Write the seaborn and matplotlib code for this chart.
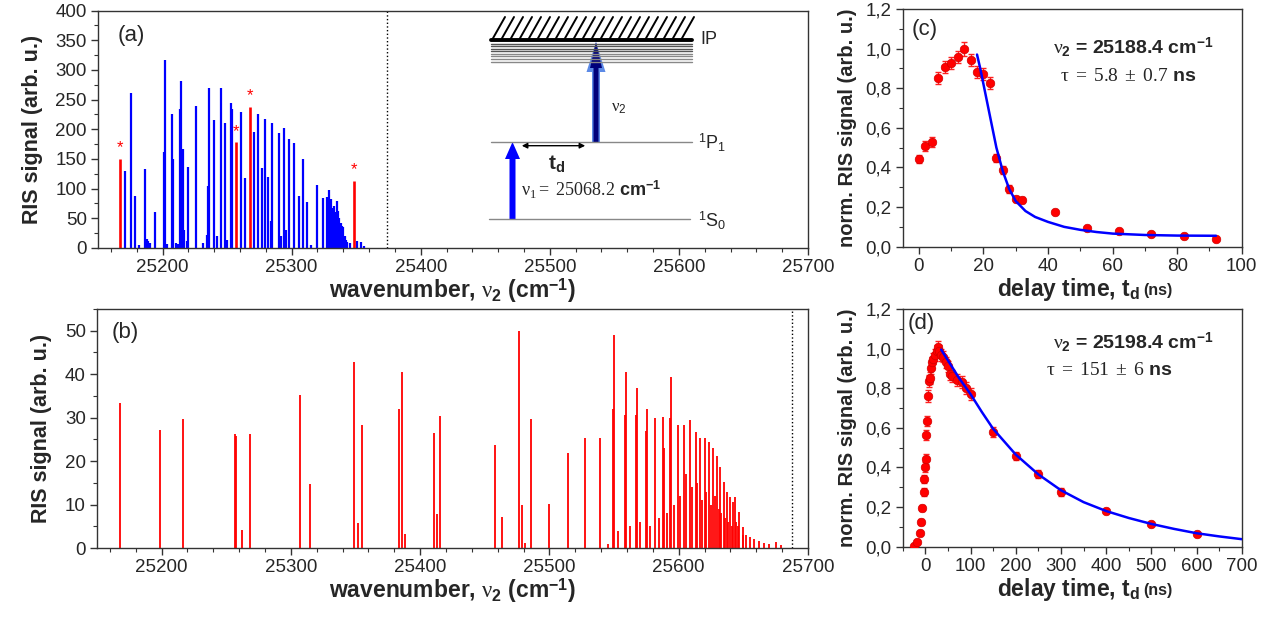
import matplotlib
matplotlib.use('Agg')
import matplotlib.pyplot as plt
import seaborn as sns
from matplotlib.ticker import MultipleLocator, FuncFormatter

# ---- panel (a): RIS spectrum, blue lines + red (starred) lines
wn_a_blue = [25171, 25175.6, 25178.7, 25181.5, 25186.5, 25188, 25189, 25190.5, 25194,
             25201, 25201.8, 25203.5, 25207, 25208, 25210.5, 25212, 25213.7, 25214.4,
             25216, 25217, 25219.2, 25219.6, 25226, 25231, 25234.5, 25235, 25236,
             25240, 25242, 25245, 25248.6, 25250, 25253, 25254, 25260.8, 25264,
             25271, 25274, 25276.8, 25279.7, 25282, 25284, 25285, 25290, 25292,
             25294, 25296, 25298.3, 25302, 25305.8, 25309, 25311.7, 25315, 25320,
             25324, 25327.5, 25329, 25330.5, 25332, 25333, 25334.6, 25335.3, 25336,
             25337, 25338, 25339, 25340, 25341, 25342, 25343, 25345, 25351, 25354, 25356]
int_a_blue = [129, 261, 87, 5, 133, 15, 12, 8, 61,
              161, 317, 6, 226, 150, 8, 6, 234, 282,
              167, 30, 12, 137, 240, 8, 22, 105, 270,
              215, 20, 269, 210, 14, 244, 235, 230, 118,
              196, 226, 134, 218, 120, 46, 211, 194, 20,
              203, 30, 184, 177, 88, 150, 78, 5, 106,
              85, 86, 98, 82, 68, 70, 60, 80, 62,
              51, 42, 37, 35, 20, 14, 10, 8, 12, 10, 4]
wn_a_red = [25167, 25257, 25268, 25348]
int_a_red = [150, 178, 238, 113]

# ---- panel (b): RIS spectrum (red)
wn_b = [25167.5, 25198.6, 25216.5, 25257.0, 25257.8, 25262.4, 25268.7, 25307.4, 25315,
        25348.6, 25352, 25354.8, 25383.3, 25386, 25388.5, 25410.5, 25413, 25415,
        25457.8, 25463, 25476.2, 25478.6, 25481, 25485.5, 25499.6, 25514.4, 25527.6,
        25539.3, 25545, 25549.3, 25550.3, 25553, 25558.5, 25559.3, 25562, 25567.3,
        25567.8, 25570, 25574.9, 25575.3, 25578, 25582, 25585, 25588, 25589, 25591,
        25593.2, 25593.7, 25596, 25599.4, 25601, 25604, 25606, 25608.5, 25610, 25613,
        25614, 25616.5, 25618, 25620, 25621, 25623.3, 25625, 25626.4, 25628, 25629.5,
        25631, 25632.1, 25633, 25634.7, 25636, 25637.3, 25638, 25639.6, 25641,
        25641.7, 25643.8, 25644, 25646, 25647, 25649.5, 25650, 25652, 25655, 25658,
        25662, 25666, 25670, 25675, 25679]
int_b = [33.4, 27.2, 29.7, 26.3, 25.7, 4.1, 26.3, 35.1, 14.7,
         42.7, 5.7, 28.2, 31.9, 40.5, 3.2, 26.5, 7.8, 30.3,
         23.8, 7.2, 49.9, 10.0, 1.2, 29.7, 10.1, 21.8, 25.4,
         25.4, 1.0, 31.9, 49.0, 4.0, 30.7, 40.6, 5.0, 30.5,
         36.9, 6.0, 27.0, 31.9, 5.0, 30.0, 7.0, 30.2, 23.0, 8.0,
         30.0, 39.4, 10.0, 28.3, 12.0, 28.3, 17.0, 29.4, 14.0, 26.6,
         15.0, 25.3, 11.0, 25.4, 13.0, 24.5, 10.0, 23.0, 12.0, 21.2,
         9.0, 18.7, 8.0, 15.3, 7.0, 13.0, 6.0, 11.8, 5.0,
         10.7, 11.8, 6.0, 5.0, 8.3, 4.9, 3.0, 3.0, 2.5, 2.0,
         1.5, 1.2, 1.0, 1.3, 0.8]

# ---- panel (c): delay scan at 25188.4 cm-1
t_c = [0, 2, 4, 6, 8, 10, 12, 14, 16, 18, 20, 22, 24, 26, 28, 30, 32, 42, 52, 62, 72, 82, 92]
sig_c = [0.443, 0.51, 0.527, 0.853, 0.909, 0.926, 0.956, 1.0, 0.942, 0.884, 0.872, 0.828,
         0.449, 0.387, 0.291, 0.242, 0.236, 0.173, 0.093, 0.078, 0.063, 0.052, 0.039]
err_c = [0.02, 0.025, 0.025, 0.03, 0.03, 0.03, 0.03, 0.035, 0.03, 0.03, 0.03, 0.03,
         0.02, 0.02, 0.02, 0.015, 0.015, 0.01, 0.008, 0.008, 0.008, 0.008, 0.008]
t_fit_c = [18, 19, 20, 21, 22, 23, 24, 25, 26, 28, 30, 33, 36, 40, 45, 50, 55, 60, 70, 80, 92]
fit_c = [0.97, 0.90, 0.82, 0.74, 0.66, 0.58, 0.50, 0.44, 0.38, 0.29, 0.23, 0.18, 0.15,
         0.125, 0.10, 0.085, 0.074, 0.066, 0.059, 0.056, 0.055]

# ---- panel (d): delay scan at 25198.4 cm-1
t_d = [-25, -18, -12, -9, -7, -4, -2, 0, 0.5, 2, 4, 6, 7, 10, 12, 15, 18, 22, 25, 28,
       31, 35, 40, 45, 50, 55, 60, 70, 80, 90, 100, 150, 200, 250, 300, 400, 500, 600]
sig_d = [0.005, 0.022, 0.071, 0.126, 0.194, 0.274, 0.34, 0.404, 0.441, 0.564, 0.636,
         0.762, 0.836, 0.853, 0.90, 0.93, 0.95, 0.97, 0.99, 1.01, 0.99, 0.97, 0.96, 0.93,
         0.91, 0.87, 0.86, 0.84, 0.83, 0.80, 0.77, 0.577, 0.458, 0.367, 0.274, 0.178,
         0.116, 0.066]
err_d = [0.01, 0.01, 0.01, 0.015, 0.015, 0.02, 0.02, 0.025, 0.025, 0.025, 0.025, 0.03,
         0.03, 0.03, 0.03, 0.03, 0.03, 0.03, 0.03, 0.03, 0.03, 0.03, 0.03, 0.03, 0.03,
         0.03, 0.03, 0.03, 0.03, 0.03, 0.03, 0.025, 0.02, 0.02, 0.02, 0.01, 0.01, 0.01]
t_fit_d = [35, 50, 75, 100, 125, 150, 200, 250, 300, 350, 400, 450, 500, 550, 600, 650, 700]
fit_d = [0.995, 0.94, 0.85, 0.77, 0.68, 0.595, 0.465, 0.365, 0.285, 0.225, 0.18, 0.145,
         0.115, 0.09, 0.068, 0.052, 0.038]

sns.set_style('ticks')
plt.rcParams['font.family'] = ['Liberation Sans', 'DejaVu Sans']
plt.rcParams['mathtext.fontset'] = 'custom'
plt.rcParams['mathtext.rm'] = 'Liberation Sans'
plt.rcParams['mathtext.it'] = 'Liberation Serif'
plt.rcParams['mathtext.bf'] = 'Liberation Sans:bold'
plt.rcParams['mathtext.sf'] = 'Liberation Serif'
plt.rcParams['xtick.direction'] = 'out'
plt.rcParams['ytick.direction'] = 'out'

fig = plt.figure(figsize=(12.74, 6.19), dpi=100)
ax_a = fig.add_axes([0.0769, 0.5994, 0.5573, 0.3834])
ax_b = fig.add_axes([0.0761, 0.1147, 0.5581, 0.3861])
ax_c = fig.add_axes([0.7086, 0.6015, 0.2661, 0.3840])
ax_d = fig.add_axes([0.7086, 0.1168, 0.2661, 0.3840])

comma = FuncFormatter(lambda v, p: f'{v:.1f}'.replace('.', ','))
xlab = r'wavenumber, $\nu_\mathbf{2}$ (cm$^\mathbf{-1}$)'


def style(ax):
    for s in ax.spines.values():
        s.set_linewidth(1.0)
        s.set_color('#333333')
    ax.tick_params(which='major', length=5, width=1, labelsize=13.5, color='#333333', pad=3)
    ax.tick_params(which='minor', length=3, width=0.8, color='#333333')


# (a)
ax_a.vlines(wn_a_blue, 0, int_a_blue, color='#0000ff', lw=1.6)
ax_a.vlines(wn_a_red, 0, int_a_red, color='#ff0000', lw=1.9)
for w, h in zip(wn_a_red, int_a_red):
    ax_a.text(w, h + 6, '*', color='#ff0000', ha='center', va='bottom', fontsize=12)
ax_a.axvline(25374, color='black', ls=':', lw=1)
ax_a.set_xlim(25150, 25700)
ax_a.set_ylim(0, 400)
ax_a.xaxis.set_major_locator(MultipleLocator(100))
ax_a.xaxis.set_minor_locator(MultipleLocator(20))
ax_a.yaxis.set_major_locator(MultipleLocator(50))
ax_a.yaxis.set_minor_locator(MultipleLocator(25))
ax_a.set_xlabel(xlab, fontsize=16.5, fontweight='bold', labelpad=0)
ax_a.set_ylabel('RIS signal (arb. u.)', fontsize=15.5, fontweight='bold', labelpad=9)
ax_a.text(0.027, 0.895, '(a)', transform=ax_a.transAxes, fontsize=16, va='center')
style(ax_a)

# (b)
ax_b.vlines(wn_b, 0, int_b, color='#ff0000', lw=1.3)
ax_b.axvline(25688, color='black', ls=':', lw=1)
ax_b.set_xlim(25150, 25700)
ax_b.set_ylim(0, 55)
ax_b.xaxis.set_major_locator(MultipleLocator(100))
ax_b.xaxis.set_minor_locator(MultipleLocator(20))
ax_b.yaxis.set_major_locator(MultipleLocator(10))
ax_b.yaxis.set_minor_locator(MultipleLocator(5))
ax_b.set_xlabel(xlab, fontsize=16.5, fontweight='bold', labelpad=0)
ax_b.set_ylabel('RIS signal (arb. u.)', fontsize=15.5, fontweight='bold', labelpad=9)
ax_b.text(0.021, 0.9, '(b)', transform=ax_b.transAxes, fontsize=16, va='center')
style(ax_b)

# (c) and (d)
for ax, t, s, e, tf, f, xl, xmaj, xmin, lab, nu, tau, pos in [
        (ax_c, t_c, sig_c, err_c, t_fit_c, fit_c, (-5, 100), 20, 10, '(c)', '25188.4',
         r'$\tau\;\mathsf{=\;5.8\;\pm\;0.7}$ ns', [(0.027, 0.912), (0.68, 0.84), (0.665, 0.718)]),
        (ax_d, t_d, sig_d, err_d, t_fit_d, fit_d, (-50, 700), 100, 50, '(d)', '25198.4',
         r'$\tau\;\mathsf{=\;151\;\pm\;6}$ ns', [(0.013, 0.937), (0.68, 0.861), (0.61, 0.74)])]:
    ax.errorbar(t, s, yerr=e, fmt='none', ecolor='#ff2020', elinewidth=1, capsize=2, zorder=2)
    sns.scatterplot(x=t, y=s, color='#ff0000', s=38, edgecolor='#d00000', linewidth=0.5,
                    zorder=3, ax=ax)
    sns.lineplot(x=tf, y=f, color='#0000ff', lw=1.8, estimator=None, sort=False, ax=ax, zorder=4)
    ax.set_xlim(*xl)
    ax.set_ylim(0, 1.2)
    ax.xaxis.set_major_locator(MultipleLocator(xmaj))
    ax.xaxis.set_minor_locator(MultipleLocator(xmin))
    ax.yaxis.set_major_locator(MultipleLocator(0.2))
    ax.yaxis.set_minor_locator(MultipleLocator(0.1))
    ax.yaxis.set_major_formatter(comma)
    ax.set_xlabel('')
    ax.text(0.70, -0.18, r'delay time, t$_\mathbf{d}$', transform=ax.transAxes, fontsize=16.5,
            fontweight='bold', ha='right', va='center')
    ax.text(0.71, -0.185, '(ns)', transform=ax.transAxes, fontsize=11.5, fontweight='bold',
            ha='left', va='center')
    ax.set_ylabel('norm. RIS signal (arb. u.)', fontsize=14.5, fontweight='bold', labelpad=6)
    ax.text(*pos[0], lab, transform=ax.transAxes, fontsize=16, va='center')
    ax.text(*pos[1], r'$\nu_\mathbf{2}$ = ' + nu + r' cm$^\mathbf{-1}$', transform=ax.transAxes,
            fontsize=14, fontweight='bold', ha='center', va='center')
    ax.text(*pos[2], tau, transform=ax.transAxes, fontsize=14, fontweight='bold',
            ha='center', va='center')
    style(ax)

# energy level scheme (inset in panel a), drawn in figure pixel coordinates
ov = fig.add_axes([0, 0, 1, 1], facecolor='none')
ov.set_xlim(0, 1274)
ov.set_ylim(619, 0)
ov.axis('off')
for x0 in range(492, 684, 9):
    ov.plot([x0, x0 + 13], [40, 17], color='black', lw=1.4)
for i, y in enumerate([43.5, 46, 48.5, 51, 53.5, 56, 58.5, 61.5]):
    ov.plot([491, 692], [y, y], color='#555555' if i < 4 else '#888888', lw=1)
ov.plot([491, 692], [40, 40], color='black', lw=2.8)
ov.plot([491, 692], [142.3, 142.3], color='#888888', lw=1)
ov.plot([489, 690], [219, 219], color='#888888', lw=1)
ov.text(700, 40, 'IP', fontsize=13, va='center')
ov.text(698, 143, r'$^\mathrm{1}$P$_\mathrm{1}$', fontsize=13, va='center')
ov.text(698, 221, r'$^\mathrm{1}$S$_\mathrm{0}$', fontsize=13, va='center')
ov.arrow(512.5, 219, 0, -77, width=6, head_width=15, head_length=17,
         length_includes_head=True, color='#0000ff', lw=0)
ov.arrow(596, 142, 0, -100, width=8, head_width=19, head_length=30,
         length_includes_head=True, color='#5c8ae6', lw=0)
ov.arrow(596, 142, 0, -100, width=5, head_width=12, head_length=26,
         length_includes_head=True, color='#00007a', lw=0)
ov.annotate('', xy=(519, 145.7), xytext=(588, 145.7),
            arrowprops=dict(arrowstyle='<|-|>', color='black', lw=1, mutation_scale=8))
ov.text(611, 108, r'$\nu_\mathrm{2}$', fontsize=12, va='center')
ov.text(548, 163, r't$_\mathbf{d}$', fontsize=15, fontweight='bold', va='center')
ov.text(521, 190, r'$\nu_\mathsf{1}\mathsf{=\;25068.2}$ cm$^\mathbf{-1}$', fontsize=13,
        fontweight='bold', va='center')

fig.savefig('out.png', dpi=100)
